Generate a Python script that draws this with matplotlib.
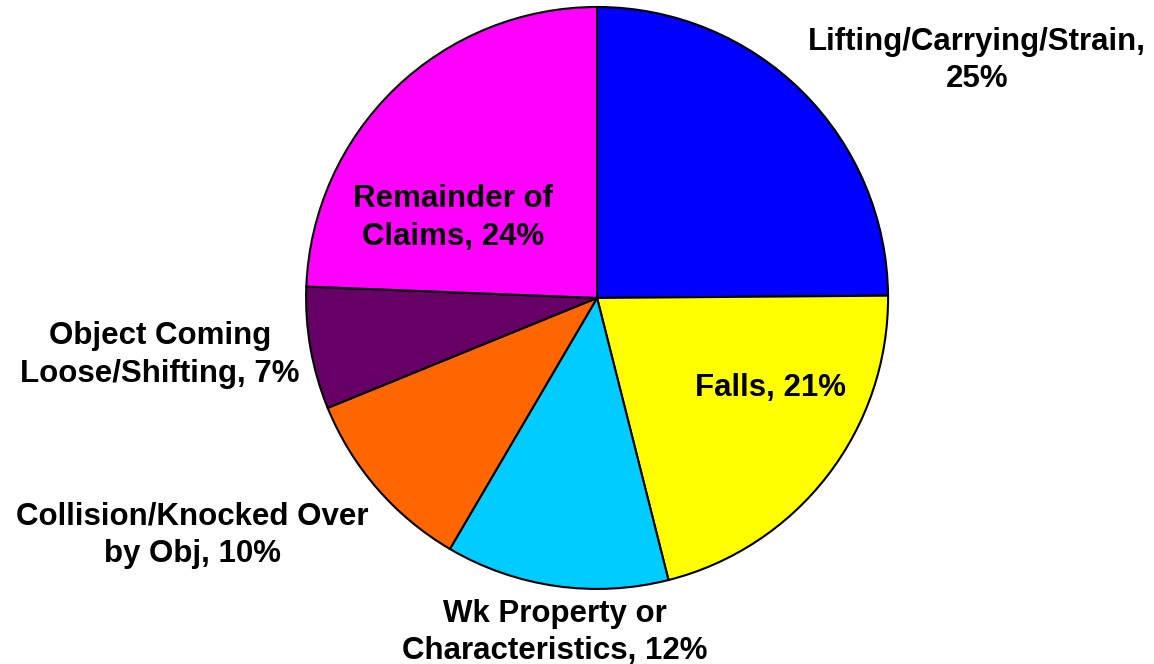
import matplotlib.pyplot as plt

# Data
categories = ["Lifting/Carrying/Strain", "Falls", "Wk Property or Characteristics",
              "Collision/Knocked Over by Obj", "Object Coming Loose/Shifting",
              "Remainder of Claims"]
values = [24.9, 21.2, 12.4, 10.4, 6.8, 24.4]
labels = ["Lifting/Carrying/Strain,\n25%", "Falls, 21%", "Wk Property or\nCharacteristics, 12%",
          "Collision/Knocked Over\nby Obj, 10%", "Object Coming\nLoose/Shifting, 7%",
          "Remainder of\nClaims, 24%"]
colors = ["#0000FF", "#FFFF00", "#00CCFF", "#FF6600", "#660066", "#FF00FF"]

# label placement (data units, pie radius = 1)
label_pos = [(1.306, 0.816), (0.595, -0.309), (-0.144, -1.149),
             (-1.392, -0.816), (-1.502, -0.196), (-0.495, 0.275)]

plt.rcParams['font.family'] = ['Liberation Sans', 'DejaVu Sans']

fig = plt.figure(figsize=(11.54, 6.64), dpi=100)
ax = fig.add_axes([0, 0, 1, 1])

ax.pie(values, colors=colors, startangle=90, counterclock=False, radius=1,
       wedgeprops=dict(edgecolor="black", linewidth=1.5))

for lab, (x, y) in zip(labels, label_pos):
    ax.text(x, y, lab, ha="center", va="center", fontsize=22.5, fontweight="bold",
            linespacing=1.32)

ax.set_xlim(-2.052, 1.914)
ax.set_ylim(-1.258, 1.024)
ax.set_aspect("equal")
ax.axis("off")

fig.savefig("out.png", dpi=100)
